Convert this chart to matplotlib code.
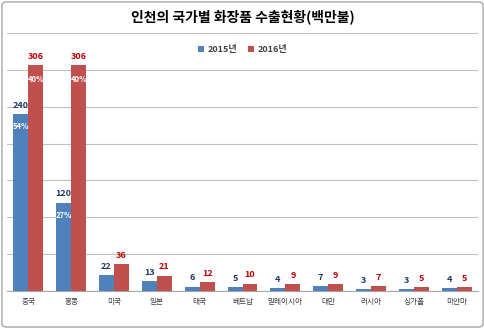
import numpy as np
import matplotlib.pyplot as plt
from matplotlib.patches import FancyBboxPatch

plt.rcParams['font.family'] = ['Noto Sans CJK KR', 'DejaVu Sans']

countries = ['중국', '홍콩', '미국', '일본', '태국', '베트남', '말레이시아', '대만', '러시아', '싱가폴', '미얀마']
v2015 = [240, 120, 22, 13, 6, 5, 4, 7, 3, 3, 4]
v2016 = [306, 306, 36, 21, 12, 10, 9, 9, 7, 5, 5]
pct2015 = {0: '54%', 1: '27%'}
pct2016 = {0: '40%', 1: '40%'}

blue = '#4F81BD'
red = '#C0504D'

fig = plt.figure(figsize=(4.85, 3.29), dpi=100)
# chart border
fig.patches.append(FancyBboxPatch((0.004, 0.006), 0.992, 0.988, boxstyle='round,pad=0,rounding_size=0.01',
                                  transform=fig.transFigure, fill=False, edgecolor='#A6A6A6', linewidth=1.0))
ax = fig.add_axes([0.0144, 0.1155, 0.9712, 0.7842])

x = np.arange(len(countries))
w = 0.35
b1 = ax.bar(x - w / 2, v2015, w, color=blue, label='2015년', zorder=3)
b2 = ax.bar(x + w / 2, v2016, w, color=red, label='2016년', zorder=3)

ax.set_xlim(-0.5, len(countries) - 0.5)
ax.set_ylim(0, 350)
ax.set_yticks(np.arange(0, 351, 50))
ax.yaxis.grid(True, color='#BFBFBF', linewidth=0.8, zorder=0)
ax.tick_params(axis='y', left=False, labelleft=False)
ax.tick_params(axis='x', length=0, labelsize=5.5, colors='#404040', pad=5)
ax.set_xticks(x)
ax.set_xticklabels(countries)
for s in ['top', 'left', 'right']:
    ax.spines[s].set_visible(False)
ax.spines['bottom'].set_color('#A6A6A6')

for i, r in enumerate(b1):
    ax.annotate(str(v2015[i]), (r.get_x() + r.get_width() / 2, r.get_height()), xytext=(0, 3),
                textcoords='offset points', ha='center', va='bottom', fontsize=6.5,
                fontweight='bold', color='#1F3864')
    if i in pct2015:
        ax.annotate(pct2015[i], (r.get_x() + r.get_width() / 2, r.get_height()), xytext=(0, -9),
                    textcoords='offset points', ha='center', va='center', fontsize=5.5,
                    fontweight='bold', color='white')
for i, r in enumerate(b2):
    ax.annotate(str(v2016[i]), (r.get_x() + r.get_width() / 2, r.get_height()), xytext=(0, 3),
                textcoords='offset points', ha='center', va='bottom', fontsize=6.5,
                fontweight='bold', color='#C00000')
    if i in pct2016:
        ax.annotate(pct2016[i], (r.get_x() + r.get_width() / 2, r.get_height()), xytext=(0, -10),
                    textcoords='offset points', ha='center', va='center', fontsize=5.5,
                    fontweight='bold', color='white')

fig.text(0.5, 0.948, '인천의 국가별 화장품 수출현황(백만불)', ha='center', va='center',
         fontsize=10, fontweight='bold', color='#000000')
leg = ax.legend(loc='upper center', bbox_to_anchor=(0.5, 0.985), ncol=2, frameon=False,
                fontsize=6.5, handlelength=0.7, handleheight=0.7, columnspacing=1.2, handletextpad=0.4)
for t in leg.get_texts():
    t.set_fontweight('bold')
    t.set_color('#404040')

fig.savefig('out.png', dpi=100)
